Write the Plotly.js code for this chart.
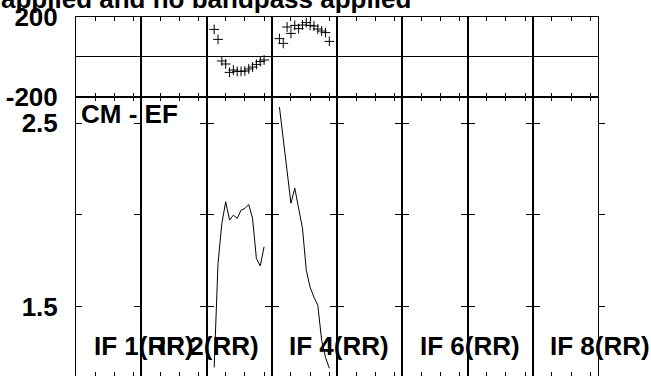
<!DOCTYPE html>
<html>
<head>
<meta charset="utf-8">
<script src="https://cdn.plot.ly/plotly-3.0.1.min.js"></script>
<style>html,body{margin:0;padding:0;background:#fff;overflow:hidden;}</style>
</head>
<body>
<div id="chart" style="width:651px;height:376px;"></div>
<script>
// ---- data ----
const channels = [2, 3, 4, 5, 6, 7, 8, 9, 10, 11, 12, 13, 14, 15];
const if3Phase = [138, 88, -20, -35, -77, -65, -72, -72, -70, -60, -50, -37, -23, -15];
const if4Phase = [92, 68, 150, 118, 158, 142, 160, 172, 158, 155, 140, 130, 122, 78];
const if3Amp = [1.168, 1.735, 1.954, 2.072, 1.972, 1.999, 1.981, 2.026, 2.036, 2.057, 1.981, 1.762, 1.722, 1.826];
const if4Amp = [2.589, 2.409, 2.212, 2.064, 2.146, 2.026, 1.928, 1.698, 1.605, 1.551, 1.507, 1.316, 1.223, 1.163];
const ifLabels = ['IF 1(RR)', 'IF 2(RR)', 'IF 4(RR)', 'IF 6(RR)', 'IF 8(RR)'];
const ifLabelCols = [1, 2, 4, 6, 8];
const xTicks = [5, 10, 15];
const phaseTicks = [-200, 200];
const phaseTickText = ['-200', '200'];
const ampTicks = [1.5, 2.0, 2.5];
const ampTickText = ['1.5', '', '2.5'];
const baselineLabel = 'CM - EF';
const titleText = 'applied and no bandpass applied';

const nCols = 8;
const phaseDomain = [0.7772, 1];
const ampDomain = [0, 0.7772];
const xRange = [0, 17];
const boldFont = {family: 'Liberation Sans, Arial, sans-serif', size: 26, color: '#000', weight: 700};

const phaseData = {3: if3Phase, 4: if4Phase};
const ampData = {3: if3Amp, 4: if4Amp};

const traces = [];
for (let col = 1; col <= nCols; col++) {
  const ph = phaseData[col];
  const am = ampData[col];
  traces.push({x: ph ? channels : [null], y: ph || [null], xaxis: 'x' + col, yaxis: 'y', type: 'scatter', mode: 'markers',
    marker: {symbol: 'cross-thin', size: 7, color: '#000', line: {color: '#000', width: 1}}, hoverinfo: 'skip'});
  traces.push({x: am ? channels : [null], y: am || [null], xaxis: 'x' + (col + nCols), yaxis: 'y2', type: 'scatter', mode: 'lines',
    line: {color: '#000', width: 1}, hoverinfo: 'skip'});
}

const layout = {
  width: 651, height: 376,
  margin: {l: 76, r: 53, t: 17, b: 0},
  paper_bgcolor: '#fff', plot_bgcolor: '#fff',
  showlegend: false,
  font: {family: 'Liberation Sans, Arial, sans-serif', color: '#000'},
  yaxis: {domain: phaseDomain, range: [-200, 200], anchor: 'x1', tickvals: phaseTicks, ticktext: phaseTickText,
    ticks: '', showline: true, linecolor: '#000', linewidth: 1, mirror: 'all', showgrid: false,
    zeroline: true, zerolinecolor: '#000', zerolinewidth: 1, tickfont: boldFont, ticklabelstandoff: 12},
  yaxis2: {domain: ampDomain, range: [1.121, 2.644], anchor: 'x9', tickvals: ampTicks, ticktext: ampTickText,
    ticks: 'inside', ticklen: 6, tickcolor: '#000', tickwidth: 1, showline: true, linecolor: '#000', linewidth: 1,
    mirror: 'allticks', showgrid: false, zeroline: false, tickfont: boldFont, ticklabelstandoff: 12},
  annotations: [],
};
for (let c = 1; c <= nCols; c++) {
  const dom = [(c - 1) / nCols, c / nCols];
  const common = {domain: dom, range: xRange, tickvals: xTicks, ticks: 'inside', ticklen: 4, tickcolor: '#000',
    tickwidth: 1, showline: true, linecolor: '#000', linewidth: 1, mirror: 'ticks', showticklabels: false,
    showgrid: false, zeroline: false};
  layout['xaxis' + c] = Object.assign({anchor: 'y'}, common);
  layout['xaxis' + (c + nCols)] = Object.assign({anchor: 'y2'}, common);
}
ifLabels.forEach((t, i) => {
  layout.annotations.push({text: t, xref: 'x' + (ifLabelCols[i] + nCols) + ' domain', x: 0.24, xanchor: 'left',
    yref: 'paper', y: 0.083, yanchor: 'middle', showarrow: false, font: boldFont});
});
layout.annotations.push({text: baselineLabel, xref: 'paper', x: 0.005, xanchor: 'left', yref: 'paper', y: 0.73,
  yanchor: 'middle', showarrow: false, font: boldFont});
layout.annotations.push({text: titleText, xref: 'paper', x: -0.147, xanchor: 'left', yref: 'paper', y: 1.049,
  yanchor: 'middle', showarrow: false, font: boldFont});

Plotly.newPlot('chart', traces, layout, {displayModeBar: false, staticPlot: true});
</script>
</body>
</html>
